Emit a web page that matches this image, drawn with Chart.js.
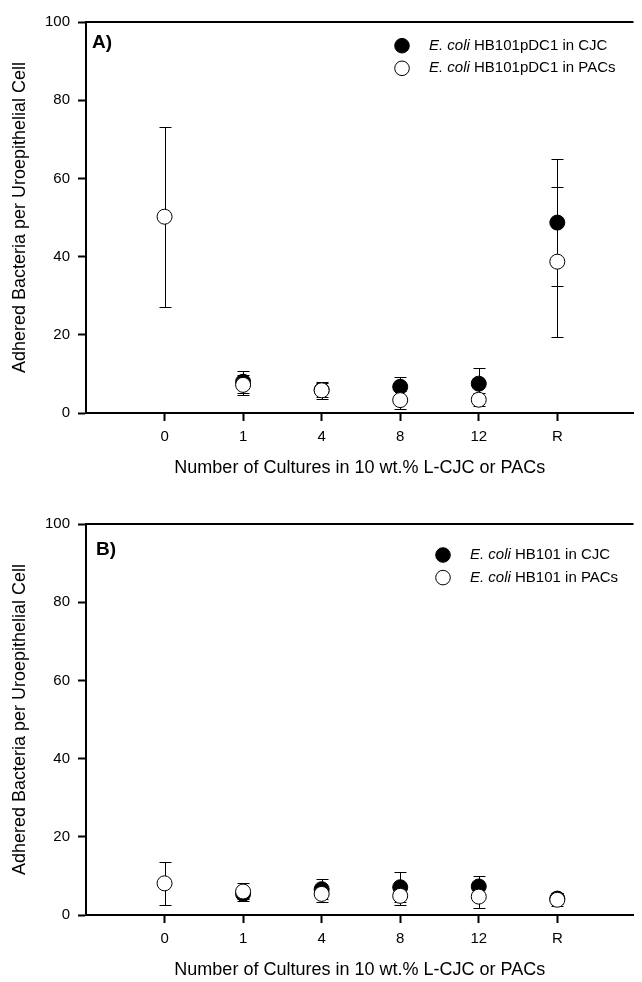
<!DOCTYPE html>
<html>
<head>
<meta charset="utf-8">
<script src="https://cdn.jsdelivr.net/npm/chart.js@4.4.0/dist/chart.umd.min.js"></script>
<style>
  html, body { margin: 0; padding: 0; background: #fff; }
  .panel { position: absolute; left: 0; width: 642px; height: 480px; }
  #wrapA { top: 0; }
  #wrapB { top: 502px; }
</style>
</head>
<body>
<div class="panel" id="wrapA"><canvas id="chartA"></canvas></div>
<div class="panel" id="wrapB"><canvas id="chartB"></canvas></div>
<script>
// categories on the x axis
const categories = ['0', '1', '4', '8', '12', 'R'];

// panel A - E. coli HB101pDC1
const cjcA    = [null, 8.0, 5.9, 6.7, 7.5, 48.7];
const cjcAErr = [null, 2.8, 1.9, 2.5, 4.0, 16.3];
const pacA    = [50.2, 7.2, 5.8, 3.3, 3.4, 38.7];
const pacAErr = [23.0, 2.6, 2.2, 2.2, 1.7, 19.2];

// panel B - E. coli HB101
const cjcB    = [null, 5.4, 6.6, 7.1, 7.3, 4.2];
const cjcBErr = [null, 1.4, 2.6, 3.9, 2.8, 1.5];
const pacB    = [8.1, 6.0, 5.4, 4.9, 4.7, 3.9];
const pacBErr = [5.5, 2.3, 2.1, 2.3, 2.8, 1.7];

const yTicks = [0, 20, 40, 60, 80, 100];

const FONT = "'Liberation Sans', Arial, Helvetica, sans-serif";

function toPoints(vals) {
  return vals.map((v, i) => ({x: i, y: v}));
}

// vertical error bars with caps, drawn under the markers
const errorBars = {
  id: 'errorBars',
  beforeDatasetsDraw(chart) {
    const ctx = chart.ctx;
    const xs = chart.scales.x, ys = chart.scales.y;
    ctx.save();
    ctx.strokeStyle = '#000';
    ctx.lineWidth = 1;
    chart.data.datasets.forEach(ds => {
      ds.data.forEach((p, i) => {
        if (p.y == null) return;
        const err = ds.errors[i];
        const x = Math.round(xs.getPixelForValue(p.x)) + 0.5;
        const hi = Math.round(ys.getPixelForValue(p.y + err)) + 0.5;
        const lo = Math.round(ys.getPixelForValue(p.y - err)) + 0.5;
        ctx.beginPath();
        ctx.moveTo(x, hi); ctx.lineTo(x, lo);
        ctx.moveTo(x - 6, hi); ctx.lineTo(x + 6, hi);
        ctx.moveTo(x - 6, lo); ctx.lineTo(x + 6, lo);
        ctx.stroke();
      });
    });
    ctx.restore();
  }
};

// top frame line, panel letter and the legend with italic species name
const decorations = {
  id: 'decorations',
  afterDraw(chart, args, opts) {
    const ctx = chart.ctx;
    const area = chart.chartArea;
    ctx.save();
    ctx.strokeStyle = '#000';
    ctx.lineWidth = 2;
    ctx.beginPath();
    ctx.moveTo(area.left - 1, area.top);
    ctx.lineTo(area.right, area.top);
    ctx.stroke();

    ctx.fillStyle = '#000';
    ctx.textBaseline = 'middle';
    ctx.font = 'bold 19px ' + FONT;
    ctx.fillText(opts.letter, opts.letterX, opts.letterY);

    opts.items.forEach((item, k) => {
      const cy = opts.legendY + k * 22.6;
      ctx.beginPath();
      ctx.arc(opts.circleX, cy, 7.3, 0, Math.PI * 2);
      ctx.fillStyle = item.fill;
      ctx.fill();
      ctx.lineWidth = 1;
      ctx.strokeStyle = '#000';
      ctx.stroke();
      ctx.fillStyle = '#000';
      ctx.font = 'italic 15px ' + FONT;
      ctx.fillText('E. coli', opts.textX, cy);
      const w = ctx.measureText('E. coli ').width;
      ctx.font = '15px ' + FONT;
      ctx.fillText(item.text, opts.textX + w, cy);
    });
    ctx.restore();
  }
};

function makePanel(id, cjc, cjcErr, pac, pacErr, deco) {
  return new Chart(document.getElementById(id), {
    type: 'scatter',
    data: {
      datasets: [
        {
          label: 'PACs',
          data: toPoints(pac),
          errors: pacErr,
          pointRadius: 7.5,
          pointBackgroundColor: '#fff',
          pointBorderColor: '#000',
          pointBorderWidth: 1,
          showLine: false
        },
        {
          label: 'CJC',
          data: toPoints(cjc),
          errors: cjcErr,
          pointRadius: 7.5,
          pointBackgroundColor: '#000',
          pointBorderColor: '#000',
          pointBorderWidth: 1,
          showLine: false
        }
      ]
    },
    options: {
      responsive: true,
      maintainAspectRatio: false,
      animation: false,
      layout: {padding: {top: 22, right: 0, left: 0, bottom: 0}},
      plugins: {
        legend: {display: false},
        tooltip: {enabled: false},
        decorations: deco
      },
      scales: {
        x: {
          type: 'linear',
          min: -1,
          max: 5.97,
          afterBuildTicks: s => { s.ticks = categories.map((c, i) => ({value: i})); },
          afterFit: s => { s.height = 67; },
          ticks: {
            callback: v => categories[v],
            color: '#000',
            font: {family: FONT, size: 15},
            padding: 7,
            maxRotation: 0,
            autoSkip: false
          },
          grid: {drawOnChartArea: false, drawTicks: true, tickLength: 8, tickWidth: 2, tickColor: '#000'},
          border: {display: true, color: '#000', width: 2},
          title: {
            display: true,
            text: 'Number of Cultures in 10 wt.% L-CJC or PACs',
            color: '#000',
            font: {family: FONT, size: 18},
            padding: {top: 0, bottom: 1}
          }
        },
        y: {
          min: 0,
          max: 100,
          afterBuildTicks: s => { s.ticks = yTicks.map(v => ({value: v})); },
          afterFit: s => { s.width = 86; },
          ticks: {
            color: '#000',
            font: {family: FONT, size: 15},
            padding: 8
          },
          grid: {drawOnChartArea: false, drawTicks: true, tickLength: 8, tickWidth: 2, tickColor: '#000'},
          border: {display: true, color: '#000', width: 2},
          title: {
            display: true,
            text: 'Adhered Bacteria per Uroepithelial Cell',
            color: '#000',
            font: {family: FONT, size: 18},
            padding: {top: 9, bottom: 0}
          }
        }
      }
    },
    plugins: [errorBars, decorations]
  });
}

makePanel('chartA', cjcA, cjcAErr, pacA, pacAErr, {
  letter: 'A)', letterX: 92, letterY: 43,
  circleX: 402, legendY: 45.7, textX: 429,
  items: [
    {fill: '#000', text: 'HB101pDC1 in CJC'},
    {fill: '#fff', text: 'HB101pDC1 in PACs'}
  ]
});

makePanel('chartB', cjcB, cjcBErr, pacB, pacBErr, {
  letter: 'B)', letterX: 96, letterY: 48,
  circleX: 443, legendY: 53, textX: 470,
  items: [
    {fill: '#000', text: 'HB101 in CJC'},
    {fill: '#fff', text: 'HB101 in PACs'}
  ]
});
</script>
</body>
</html>
